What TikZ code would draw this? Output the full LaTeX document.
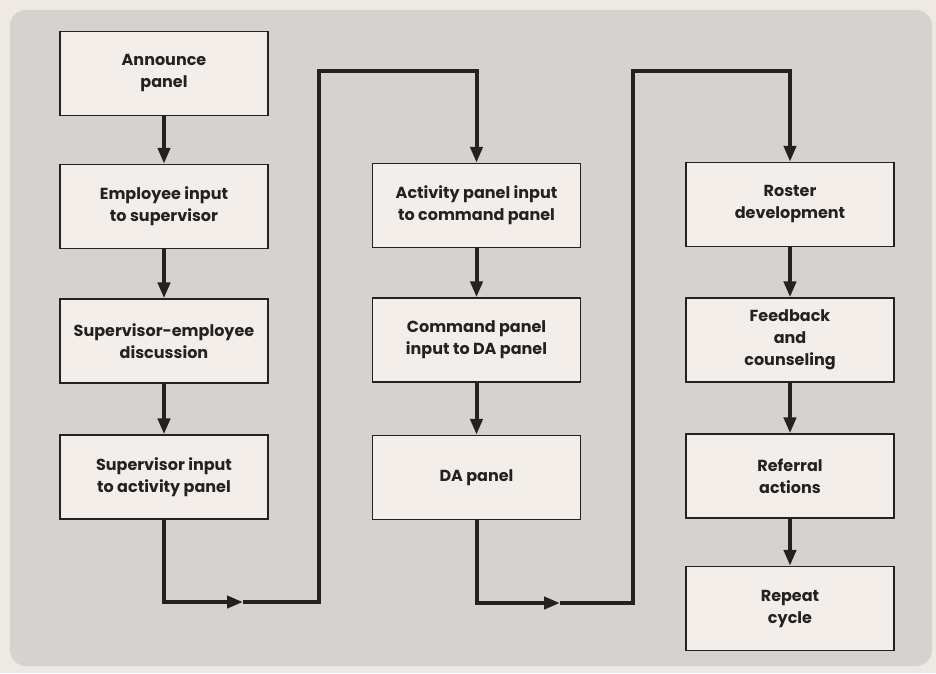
\documentclass[tikz,border=0pt]{standalone}
\usepackage{fontspec}
\setmainfont{Poppins}
\usetikzlibrary{arrows.meta}
\definecolor{outerbg}{HTML}{EFE9E4}
\definecolor{panelbg}{HTML}{D5D2CF}
\definecolor{boxfill}{HTML}{F4EEEA}
\definecolor{ink}{HTML}{232222}
\tikzset{
  stepbox/.style={draw=ink, line width=1.3pt, fill=boxfill, minimum width=208pt, minimum height=84pt,
    align=center, inner sep=0pt, font=\fontsize{16}{22}\selectfont\bfseries, text=ink},
  flow/.style={draw=ink, line width=4pt},
  tip/.style={-{Triangle[length=16pt,width=12pt]}}
}
\begin{document}
\begin{tikzpicture}[x=1pt,y=-1pt]
\useasboundingbox (0,0) rectangle (936,673);
\fill[outerbg] (0,0) rectangle (936,673);
\fill[panelbg, rounded corners=16pt] (10,10) rectangle (932,666);
% column 1
\node[stepbox] (n1) at (164,73.5) {Announce\\panel};
\node[stepbox] (n2) at (164,206.5) {Employee input\\to supervisor};
\node[stepbox] (n3) at (164,341) {Supervisor-employee\\discussion};
\node[stepbox] (n4) at (164,477) {Supervisor input\\to activity panel};
% column 2
\node[stepbox] (m1) at (476.5,205.5) {Activity panel input\\to command panel};
\node[stepbox] (m2) at (476.5,340) {Command panel\\input to DA panel};
\node[stepbox] (m3) at (476.5,477.5) {DA panel};
% column 3
\node[stepbox] (r1) at (790,204.5) {Roster\\development};
\node[stepbox] (r2) at (790,340) {Feedback\\and\\counseling};
\node[stepbox] (r3) at (790,476) {Referral\\actions};
\node[stepbox] (r4) at (790,608.5) {Repeat\\cycle};
% vertical connectors
\draw[flow,tip] (n1) -- (n2);
\draw[flow,tip] (n2) -- (n3);
\draw[flow,tip] (n3) -- (n4);
\draw[flow,tip] (m1) -- (m2);
\draw[flow,tip] (m2) -- (m3);
\draw[flow,tip] (r1) -- (r2);
\draw[flow,tip] (r2) -- (r3);
\draw[flow,tip] (r3) -- (r4);
% loop 1
\coordinate (a1) at (243,602);
\coordinate (a2) at (319,602);
\coordinate (a3) at (319,71);
\coordinate (a4) at (408,71);
\draw[flow,tip] (n4.south) |- (a1);
\draw[flow] (a1) -- (a2) -- (a3) -- (a4);
\draw[flow,tip] (a4) -| (m1.north);
% loop 2
\coordinate (b1) at (560,603);
\coordinate (b2) at (633,603);
\coordinate (b3) at (633,71);
\coordinate (b4) at (721,71);
\draw[flow,tip] (m3.south) |- (b1);
\draw[flow] (b1) -- (b2) -- (b3) -- (b4);
\draw[flow,tip] (b4) -| (r1.north);
\end{tikzpicture}
\end{document}
